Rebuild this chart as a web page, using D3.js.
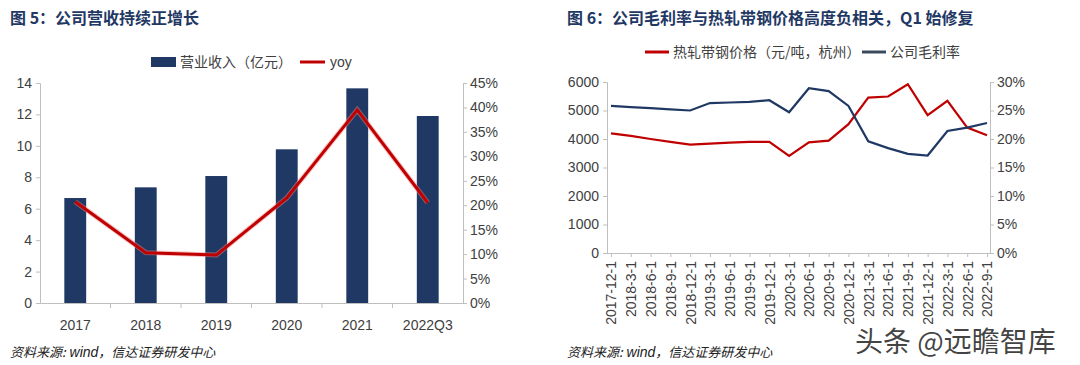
<!DOCTYPE html>
<html>
<head>
<meta charset="utf-8">
<script src="https://d3js.org/d3.v7.min.js"></script>
<style>
  body { margin: 0; background: #fff; }
  svg { display: block; }
  .tick text { fill: #404040; }
</style>
</head>
<body>
<svg id="chart" width="1080" height="365"></svg>
<script>
// ---- left chart data ----
const years = ["2017", "2018", "2019", "2020", "2021", "2022Q3"];
const revenue = [6.68, 7.36, 8.08, 9.78, 13.66, 11.9];
const yoy = [0.207, 0.103, 0.098, 0.215, 0.395, 0.205];
const revTicks = [0, 2, 4, 6, 8, 10, 12, 14];
const yoyTicks = [0, 0.05, 0.10, 0.15, 0.20, 0.25, 0.30, 0.35, 0.40, 0.45];

// ---- right chart data ----
const dates = ["2017-12-1", "2018-3-1", "2018-6-1", "2018-9-1", "2018-12-1", "2019-3-1",
  "2019-6-1", "2019-9-1", "2019-12-1", "2020-3-1", "2020-6-1", "2020-9-1", "2020-12-1",
  "2021-3-1", "2021-6-1", "2021-9-1", "2021-12-1", "2022-3-1", "2022-6-1", "2022-9-1"];
const steelPrice = [4200, 4110, 4000, 3900, 3800, 3840, 3870, 3900, 3900, 3410, 3880, 3940,
  4520, 5450, 5490, 5920, 4840, 5340, 4400, 4130];
const grossMargin = [0.258, 0.256, 0.254, 0.252, 0.250, 0.263, 0.264, 0.265, 0.268, 0.247,
  0.289, 0.284, 0.258, 0.196, 0.184, 0.174, 0.171, 0.214, 0.220, 0.228];
const priceTicks = [0, 1000, 2000, 3000, 4000, 5000, 6000];
const marginTicks = [0, 0.05, 0.10, 0.15, 0.20, 0.25, 0.30];

const navy = "#1f3864";
const red = "#c00000";
const axisGrey = "#bfbfbf";
const fontLat = "Arial, 'Liberation Sans', sans-serif";
const fontCjk = "'Noto Sans CJK SC', sans-serif";

const svg = d3.select("#chart");

// titles
svg.append("text").attr("x", 10).attr("y", 24)
  .attr("font-family", fontCjk).attr("font-weight", "bold").attr("font-size", 16)
  .attr("fill", navy).text("图 5：公司营收持续正增长");
svg.append("text").attr("x", 567).attr("y", 24)
  .attr("font-family", fontCjk).attr("font-weight", "bold").attr("font-size", 16)
  .attr("fill", navy).text("图 6：公司毛利率与热轧带钢价格高度负相关，Q1 始修复");

// sources
[10, 567].forEach(x => {
  const t = svg.append("text").attr("x", x).attr("y", 357)
    .attr("font-size", 13).attr("fill", "#222").attr("font-style", "italic");
  t.append("tspan").attr("font-family", fontCjk).text("资料来源:");
  t.append("tspan").attr("font-family", fontLat).attr("font-size", 14).text(" wind");
  t.append("tspan").attr("font-family", fontCjk).text("，信达证券研发中心");
});

function styleAxis(g) {
  g.selectAll(".domain, .tick line").attr("stroke", axisGrey);
  g.selectAll(".tick text").attr("font-family", fontLat).attr("font-size", 14);
}

// ================= left chart =================
const L = { left: 40, right: 463, top: 83, bottom: 303 };
const xL = d3.scaleBand(years, [L.left, L.right]).paddingInner(0.69).paddingOuter(0.345);
const yL = d3.scaleLinear([0, 14], [L.bottom, L.top]);
const yR = d3.scaleLinear([0, 0.45], [L.bottom, L.top]);

svg.append("g").attr("transform", `translate(${L.left},0)`)
  .call(d3.axisLeft(yL).tickValues(revTicks).tickSize(4).tickPadding(4))
  .call(styleAxis);
svg.append("g").attr("transform", `translate(${L.right},0)`)
  .call(d3.axisRight(yR).tickValues(yoyTicks).tickFormat(d3.format(".0%")).tickSize(4).tickPadding(3))
  .call(styleAxis);

const xAxisL = svg.append("g").attr("transform", `translate(0,${L.bottom})`)
  .call(d3.axisBottom(xL).tickSize(0).tickPadding(17).tickSizeOuter(0))
  .call(styleAxis);
// category boundary ticks
const step = xL.step();
xAxisL.selectAll(".sep").data(years.slice(1)).join("line")
  .attr("x1", d => xL(d) - xL.paddingInner() * step / 2)
  .attr("x2", d => xL(d) - xL.paddingInner() * step / 2)
  .attr("y1", 0).attr("y2", 5).attr("stroke", axisGrey);

svg.append("g").selectAll("rect").data(years).join("rect")
  .attr("x", d => xL(d)).attr("width", xL.bandwidth())
  .attr("y", (d, i) => yL(revenue[i]))
  .attr("height", (d, i) => yL(0) - yL(revenue[i]))
  .attr("fill", navy);

const yoyLine = d3.line().x((d, i) => xL(years[i]) + xL.bandwidth() / 2).y(d => yR(d));
svg.append("path").datum(yoy).attr("d", yoyLine)
  .attr("fill", "none").attr("stroke", "#e88").attr("stroke-width", 5).attr("stroke-opacity", 0.5);
svg.append("path").datum(yoy).attr("d", yoyLine)
  .attr("fill", "none").attr("stroke", red).attr("stroke-width", 3);

// left legend
const lg = svg.append("g").attr("font-family", fontCjk).attr("font-size", 14).attr("fill", "#404040");
lg.append("rect").attr("x", 151).attr("y", 57).attr("width", 25).attr("height", 10).attr("fill", navy);
lg.append("text").attr("x", 180).attr("y", 67).text("营业收入（亿元）");
lg.append("line").attr("x1", 300).attr("x2", 325).attr("y1", 62).attr("y2", 62)
  .attr("stroke", red).attr("stroke-width", 3);
lg.append("text").attr("x", 330).attr("y", 67).attr("font-family", fontLat).text("yoy");

// ================= right chart =================
const R = { left: 607, right: 990, top: 82, bottom: 253 };
const xP = d3.scalePoint(dates, [R.left + 4, R.right - 3]);
const yP = d3.scaleLinear([0, 6000], [R.bottom, R.top]);
const yM = d3.scaleLinear([0, 0.30], [R.bottom, R.top]);

svg.append("g").attr("transform", `translate(${R.left},0)`)
  .call(d3.axisLeft(yP).tickValues(priceTicks).tickFormat(d3.format("d")).tickSize(4).tickPadding(4))
  .call(styleAxis);
svg.append("g").attr("transform", `translate(${R.right},0)`)
  .call(d3.axisRight(yM).tickValues(marginTicks).tickFormat(d3.format(".0%")).tickSize(4).tickPadding(3))
  .call(styleAxis);

const xAxisR = svg.append("g").attr("transform", `translate(0,${R.bottom})`)
  .call(d3.axisBottom(xP).tickSize(4).tickPadding(4).tickSizeOuter(0))
  .call(styleAxis);
xAxisR.select(".domain").attr("d", `M${R.left},0.5H${R.right}`);
xAxisR.selectAll(".tick text")
  .attr("font-size", 14)
  .attr("transform", "rotate(-90)")
  .attr("text-anchor", "end")
  .attr("dx", "-8").attr("dy", "0.35em")
  .attr("x", 0).attr("y", 0);

const priceLine = d3.line().x((d, i) => xP(dates[i])).y(d => yP(d));
const marginLine = d3.line().x((d, i) => xP(dates[i])).y(d => yM(d));
svg.append("path").datum(steelPrice).attr("d", priceLine)
  .attr("fill", "none").attr("stroke", red).attr("stroke-width", 2.2);
svg.append("path").datum(grossMargin).attr("d", marginLine)
  .attr("fill", "none").attr("stroke", navy).attr("stroke-width", 2.2);

// right legend
const rg = svg.append("g").attr("font-family", fontCjk).attr("font-size", 14).attr("fill", "#404040");
rg.append("line").attr("x1", 645).attr("x2", 669).attr("y1", 52).attr("y2", 52)
  .attr("stroke", red).attr("stroke-width", 3);
rg.append("text").attr("x", 673).attr("y", 57).text("热轧带钢价格（元/吨，杭州）");
rg.append("line").attr("x1", 862).attr("x2", 886).attr("y1", 52).attr("y2", 52)
  .attr("stroke", "#3a4a5c").attr("stroke-width", 3);
rg.append("text").attr("x", 890).attr("y", 57).text("公司毛利率");

// watermark
svg.append("text").attr("x", 855).attr("y", 352)
  .attr("font-family", fontCjk).attr("font-size", 28).attr("fill", "#222").attr("fill-opacity", 0.85)
  .text("头条 @远瞻智库");
</script>
</body>
</html>
